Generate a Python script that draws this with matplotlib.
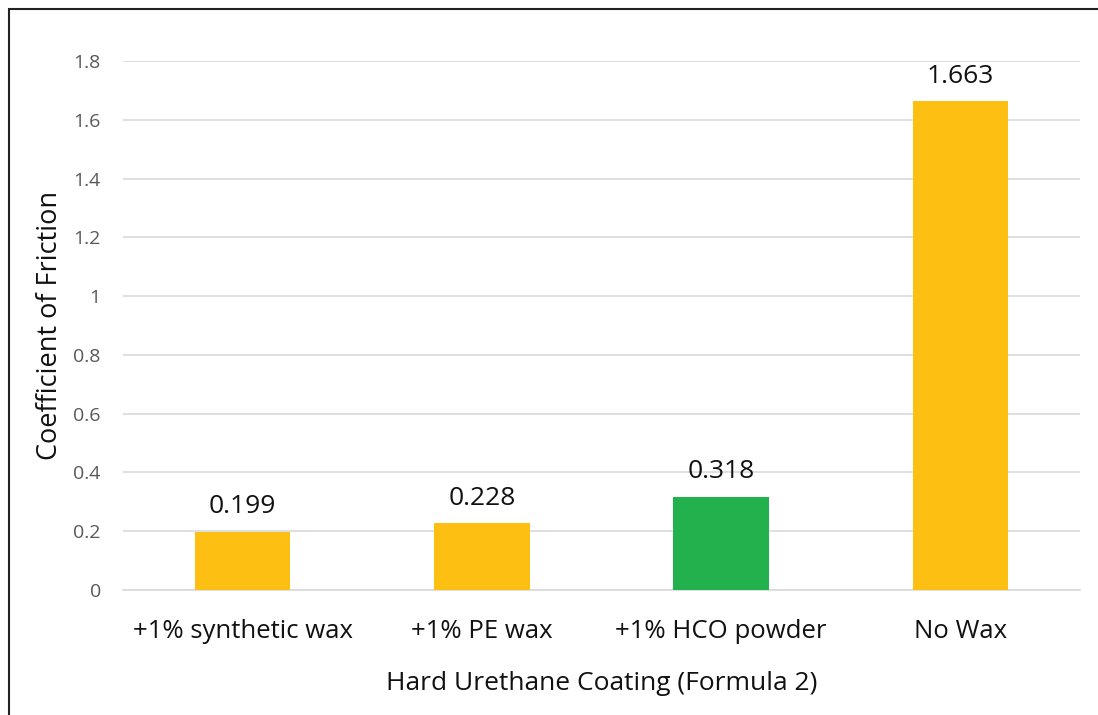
import matplotlib.pyplot as plt
from matplotlib.patches import Rectangle

categories = ['+1% synthetic wax', '+1% PE wax', '+1% HCO powder', 'No Wax']
cof = [0.199, 0.228, 0.318, 1.663]
colors = ['#FCBF12', '#FCBF12', '#22B14C', '#FCBF12']
yticks = [0, 0.2, 0.4, 0.6, 0.8, 1, 1.2, 1.4, 1.6, 1.8]
ytick_labels = ['0', '0.2', '0.4', '0.6', '0.8', '1', '1.2', '1.4', '1.6', '1.8']

plt.rcParams['font.family'] = ['Open Sans', 'DejaVu Sans']

fig = plt.figure(figsize=(10.98, 7.15), dpi=100)
ax = fig.add_axes([0.112, 0.1748, 0.8716, 0.7399])

x = range(len(categories))
ax.bar(x, cof, width=0.4, color=colors, zorder=3)
for xi, v in zip(x, cof):
    ax.annotate(f'{v:.3f}', (xi, v), xytext=(0, 9), textcoords='offset points',
                ha='center', va='bottom', fontsize=19, color='#111111')

ax.set_xlim(-0.5, 3.5)
ax.set_ylim(0, 1.8)
ax.set_yticks(yticks)
ax.set_yticklabels(ytick_labels, fontsize=14, color='#595959')
ax.set_xticks(list(x))
ax.set_xticklabels(categories, fontsize=18.5, color='#111111')
ax.tick_params(axis='both', length=0)
ax.tick_params(axis='x', pad=21)
ax.tick_params(axis='y', pad=16)
ax.yaxis.grid(True, color='#D9D9D9', linewidth=1.2, zorder=0)
for s in ['top', 'right', 'left']:
    ax.spines[s].set_visible(False)
ax.spines['bottom'].set_color('#D9D9D9')
ax.spines['bottom'].set_linewidth(1.2)

ax.set_ylabel('Coefficient of Friction', fontsize=19.5, color='#111111', labelpad=7)
ax.set_xlabel('Hard Urethane Coating (Formula 2)', fontsize=19, color='#111111', labelpad=19)

# outer frame around the chart area
fig.patches.append(Rectangle((9 / 1098, -0.1), 1.2, 1 - 9 / 715 + 0.1,
                             transform=fig.transFigure, fill=False,
                             edgecolor='#222222', linewidth=1.5))

fig.savefig('out.png', dpi=100)
